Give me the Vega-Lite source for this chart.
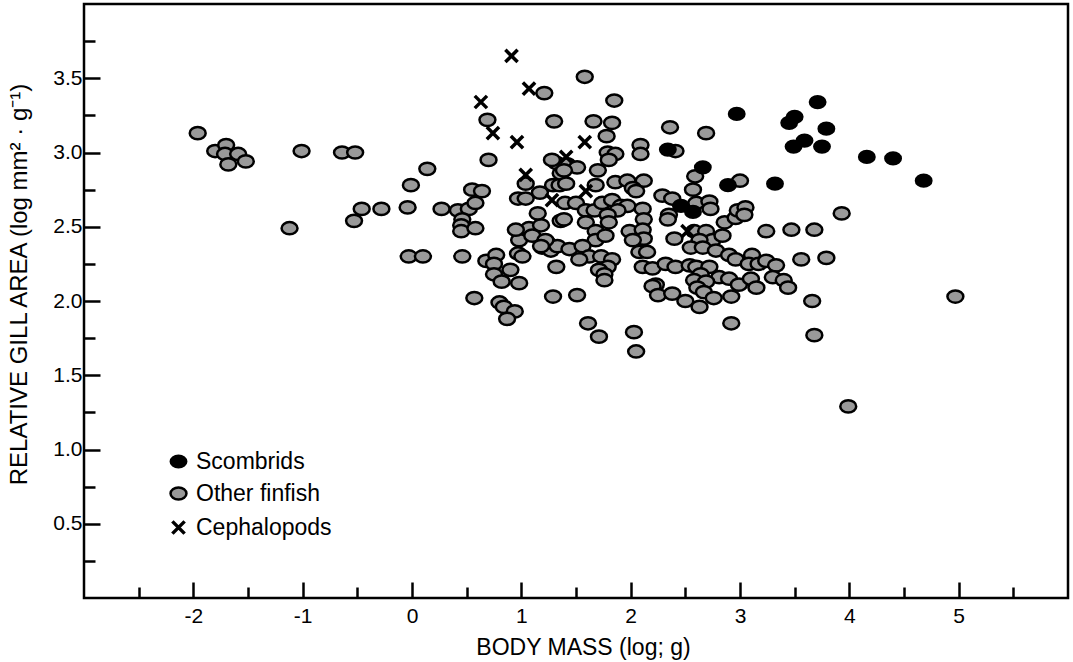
{
  "$schema": "https://vega.github.io/schema/vega-lite/v6.json",
  "width": 984,
  "height": 594,
  "autosize": {"type": "none"},
  "padding": {"left": 84, "top": 4, "right": 5, "bottom": 64},
  "background": "white",
  "config": {
    "view": {"stroke": "black", "strokeWidth": 2.5},
    "font": "Liberation Sans",
    "axis": {
      "domain": false,
      "grid": false,
      "tickColor": "black",
      "tickWidth": 2.5,
      "labelColor": "black",
      "labelFont": "Liberation Sans",
      "labelFontSize": 21,
      "labelOverlap": false,
      "labelBound": false,
      "titleFont": "Liberation Sans",
      "titleFontWeight": "normal",
      "titleColor": "black"
    },
    "legend": {
      "labelFont": "Liberation Sans",
      "labelFontSize": 23,
      "labelColor": "black",
      "padding": 0
    }
  },
  "data": {
    "values": [
      {"mass": -1.96, "gill": 3.13, "group": "Other finfish"},
      {"mass": -1.80, "gill": 3.01, "group": "Other finfish"},
      {"mass": -1.70, "gill": 3.05, "group": "Other finfish"},
      {"mass": -1.71, "gill": 2.99, "group": "Other finfish"},
      {"mass": -1.59, "gill": 2.99, "group": "Other finfish"},
      {"mass": -1.68, "gill": 2.92, "group": "Other finfish"},
      {"mass": -1.52, "gill": 2.94, "group": "Other finfish"},
      {"mass": -1.12, "gill": 2.49, "group": "Other finfish"},
      {"mass": -1.01, "gill": 3.01, "group": "Other finfish"},
      {"mass": -0.64, "gill": 3.00, "group": "Other finfish"},
      {"mass": -0.52, "gill": 3.00, "group": "Other finfish"},
      {"mass": 0.14, "gill": 2.89, "group": "Other finfish"},
      {"mass": -0.01, "gill": 2.78, "group": "Other finfish"},
      {"mass": -0.46, "gill": 2.62, "group": "Other finfish"},
      {"mass": -0.28, "gill": 2.62, "group": "Other finfish"},
      {"mass": -0.04, "gill": 2.63, "group": "Other finfish"},
      {"mass": -0.53, "gill": 2.54, "group": "Other finfish"},
      {"mass": 0.27, "gill": 2.62, "group": "Other finfish"},
      {"mass": 0.42, "gill": 2.61, "group": "Other finfish"},
      {"mass": 0.52, "gill": 2.62, "group": "Other finfish"},
      {"mass": 0.58, "gill": 2.66, "group": "Other finfish"},
      {"mass": 0.55, "gill": 2.75, "group": "Other finfish"},
      {"mass": 0.64, "gill": 2.74, "group": "Other finfish"},
      {"mass": 0.46, "gill": 2.55, "group": "Other finfish"},
      {"mass": 0.45, "gill": 2.51, "group": "Other finfish"},
      {"mass": 0.45, "gill": 2.47, "group": "Other finfish"},
      {"mass": 0.58, "gill": 2.49, "group": "Other finfish"},
      {"mass": 0.69, "gill": 3.22, "group": "Other finfish"},
      {"mass": 0.70, "gill": 2.95, "group": "Other finfish"},
      {"mass": 1.21, "gill": 3.40, "group": "Other finfish"},
      {"mass": 1.04, "gill": 2.79, "group": "Other finfish"},
      {"mass": -0.03, "gill": 2.30, "group": "Other finfish"},
      {"mass": 0.10, "gill": 2.30, "group": "Other finfish"},
      {"mass": 0.46, "gill": 2.30, "group": "Other finfish"},
      {"mass": 0.68, "gill": 2.27, "group": "Other finfish"},
      {"mass": 0.77, "gill": 2.31, "group": "Other finfish"},
      {"mass": 0.75, "gill": 2.25, "group": "Other finfish"},
      {"mass": 0.75, "gill": 2.18, "group": "Other finfish"},
      {"mass": 0.82, "gill": 2.13, "group": "Other finfish"},
      {"mass": 0.90, "gill": 2.21, "group": "Other finfish"},
      {"mass": 0.98, "gill": 2.12, "group": "Other finfish"},
      {"mass": 0.97, "gill": 2.32, "group": "Other finfish"},
      {"mass": 1.01, "gill": 2.30, "group": "Other finfish"},
      {"mass": 0.97, "gill": 2.47, "group": "Other finfish"},
      {"mass": 0.98, "gill": 2.41, "group": "Other finfish"},
      {"mass": 1.07, "gill": 2.49, "group": "Other finfish"},
      {"mass": 1.10, "gill": 2.44, "group": "Other finfish"},
      {"mass": 1.18, "gill": 2.51, "group": "Other finfish"},
      {"mass": 1.23, "gill": 2.40, "group": "Other finfish"},
      {"mass": 1.19, "gill": 2.36, "group": "Other finfish"},
      {"mass": 1.27, "gill": 2.34, "group": "Other finfish"},
      {"mass": 1.33, "gill": 2.37, "group": "Other finfish"},
      {"mass": 1.32, "gill": 2.23, "group": "Other finfish"},
      {"mass": 1.15, "gill": 2.59, "group": "Other finfish"},
      {"mass": 0.97, "gill": 2.69, "group": "Other finfish"},
      {"mass": 1.04, "gill": 2.69, "group": "Other finfish"},
      {"mass": 1.17, "gill": 2.73, "group": "Other finfish"},
      {"mass": 1.29, "gill": 2.78, "group": "Other finfish"},
      {"mass": 1.35, "gill": 2.78, "group": "Other finfish"},
      {"mass": 1.36, "gill": 2.54, "group": "Other finfish"},
      {"mass": 1.32, "gill": 2.93, "group": "Other finfish"},
      {"mass": 1.36, "gill": 2.86, "group": "Other finfish"},
      {"mass": 1.42, "gill": 2.92, "group": "Other finfish"},
      {"mass": 1.51, "gill": 2.90, "group": "Other finfish"},
      {"mass": 1.70, "gill": 2.88, "group": "Other finfish"},
      {"mass": 1.41, "gill": 2.79, "group": "Other finfish"},
      {"mass": 1.68, "gill": 2.78, "group": "Other finfish"},
      {"mass": 1.86, "gill": 2.80, "group": "Other finfish"},
      {"mass": 1.97, "gill": 2.81, "group": "Other finfish"},
      {"mass": 2.12, "gill": 2.81, "group": "Other finfish"},
      {"mass": 2.02, "gill": 2.76, "group": "Other finfish"},
      {"mass": 2.05, "gill": 2.74, "group": "Other finfish"},
      {"mass": 1.40, "gill": 2.66, "group": "Other finfish"},
      {"mass": 1.50, "gill": 2.66, "group": "Other finfish"},
      {"mass": 1.59, "gill": 2.61, "group": "Other finfish"},
      {"mass": 1.67, "gill": 2.61, "group": "Other finfish"},
      {"mass": 1.74, "gill": 2.66, "group": "Other finfish"},
      {"mass": 1.83, "gill": 2.68, "group": "Other finfish"},
      {"mass": 1.91, "gill": 2.64, "group": "Other finfish"},
      {"mass": 1.97, "gill": 2.64, "group": "Other finfish"},
      {"mass": 1.88, "gill": 2.61, "group": "Other finfish"},
      {"mass": 1.79, "gill": 2.58, "group": "Other finfish"},
      {"mass": 1.80, "gill": 2.53, "group": "Other finfish"},
      {"mass": 1.59, "gill": 2.53, "group": "Other finfish"},
      {"mass": 1.39, "gill": 2.55, "group": "Other finfish"},
      {"mass": 2.11, "gill": 2.62, "group": "Other finfish"},
      {"mass": 2.12, "gill": 2.55, "group": "Other finfish"},
      {"mass": 1.68, "gill": 2.47, "group": "Other finfish"},
      {"mass": 1.68, "gill": 2.41, "group": "Other finfish"},
      {"mass": 1.77, "gill": 2.44, "group": "Other finfish"},
      {"mass": 1.99, "gill": 2.47, "group": "Other finfish"},
      {"mass": 2.11, "gill": 2.48, "group": "Other finfish"},
      {"mass": 2.12, "gill": 2.42, "group": "Other finfish"},
      {"mass": 2.02, "gill": 2.41, "group": "Other finfish"},
      {"mass": 2.08, "gill": 2.33, "group": "Other finfish"},
      {"mass": 2.15, "gill": 2.33, "group": "Other finfish"},
      {"mass": 1.44, "gill": 2.35, "group": "Other finfish"},
      {"mass": 1.56, "gill": 2.37, "group": "Other finfish"},
      {"mass": 1.62, "gill": 2.30, "group": "Other finfish"},
      {"mass": 1.53, "gill": 2.28, "group": "Other finfish"},
      {"mass": 1.73, "gill": 2.30, "group": "Other finfish"},
      {"mass": 1.83, "gill": 2.28, "group": "Other finfish"},
      {"mass": 1.79, "gill": 2.23, "group": "Other finfish"},
      {"mass": 1.71, "gill": 2.21, "group": "Other finfish"},
      {"mass": 1.76, "gill": 2.18, "group": "Other finfish"},
      {"mass": 2.11, "gill": 2.23, "group": "Other finfish"},
      {"mass": 2.20, "gill": 2.22, "group": "Other finfish"},
      {"mass": 2.32, "gill": 2.25, "group": "Other finfish"},
      {"mass": 2.41, "gill": 2.23, "group": "Other finfish"},
      {"mass": 2.23, "gill": 2.11, "group": "Other finfish"},
      {"mass": 2.29, "gill": 2.71, "group": "Other finfish"},
      {"mass": 2.38, "gill": 2.69, "group": "Other finfish"},
      {"mass": 2.35, "gill": 2.58, "group": "Other finfish"},
      {"mass": 2.34, "gill": 2.55, "group": "Other finfish"},
      {"mass": 2.40, "gill": 2.42, "group": "Other finfish"},
      {"mass": 2.57, "gill": 2.75, "group": "Other finfish"},
      {"mass": 2.59, "gill": 2.84, "group": "Other finfish"},
      {"mass": 2.60, "gill": 2.66, "group": "Other finfish"},
      {"mass": 2.72, "gill": 2.67, "group": "Other finfish"},
      {"mass": 2.73, "gill": 2.62, "group": "Other finfish"},
      {"mass": 2.58, "gill": 2.47, "group": "Other finfish"},
      {"mass": 2.69, "gill": 2.47, "group": "Other finfish"},
      {"mass": 2.75, "gill": 2.41, "group": "Other finfish"},
      {"mass": 2.63, "gill": 2.41, "group": "Other finfish"},
      {"mass": 2.84, "gill": 2.44, "group": "Other finfish"},
      {"mass": 2.86, "gill": 2.53, "group": "Other finfish"},
      {"mass": 2.96, "gill": 2.56, "group": "Other finfish"},
      {"mass": 2.98, "gill": 2.61, "group": "Other finfish"},
      {"mass": 2.55, "gill": 2.36, "group": "Other finfish"},
      {"mass": 2.66, "gill": 2.36, "group": "Other finfish"},
      {"mass": 2.78, "gill": 2.34, "group": "Other finfish"},
      {"mass": 2.90, "gill": 2.31, "group": "Other finfish"},
      {"mass": 2.54, "gill": 2.24, "group": "Other finfish"},
      {"mass": 2.60, "gill": 2.23, "group": "Other finfish"},
      {"mass": 2.72, "gill": 2.23, "group": "Other finfish"},
      {"mass": 2.64, "gill": 2.18, "group": "Other finfish"},
      {"mass": 2.81, "gill": 2.16, "group": "Other finfish"},
      {"mass": 2.90, "gill": 2.15, "group": "Other finfish"},
      {"mass": 2.58, "gill": 2.14, "group": "Other finfish"},
      {"mass": 2.69, "gill": 2.13, "group": "Other finfish"},
      {"mass": 2.20, "gill": 2.10, "group": "Other finfish"},
      {"mass": 2.61, "gill": 2.09, "group": "Other finfish"},
      {"mass": 0.57, "gill": 2.02, "group": "Other finfish"},
      {"mass": 0.80, "gill": 1.99, "group": "Other finfish"},
      {"mass": 0.84, "gill": 1.96, "group": "Other finfish"},
      {"mass": 0.94, "gill": 1.93, "group": "Other finfish"},
      {"mass": 0.87, "gill": 1.88, "group": "Other finfish"},
      {"mass": 1.29, "gill": 2.03, "group": "Other finfish"},
      {"mass": 1.51, "gill": 2.04, "group": "Other finfish"},
      {"mass": 1.61, "gill": 1.85, "group": "Other finfish"},
      {"mass": 1.71, "gill": 1.76, "group": "Other finfish"},
      {"mass": 2.03, "gill": 1.79, "group": "Other finfish"},
      {"mass": 2.05, "gill": 1.66, "group": "Other finfish"},
      {"mass": 2.25, "gill": 2.04, "group": "Other finfish"},
      {"mass": 2.38, "gill": 2.05, "group": "Other finfish"},
      {"mass": 2.50, "gill": 2.00, "group": "Other finfish"},
      {"mass": 2.63, "gill": 1.96, "group": "Other finfish"},
      {"mass": 2.67, "gill": 2.06, "group": "Other finfish"},
      {"mass": 2.76, "gill": 2.02, "group": "Other finfish"},
      {"mass": 2.92, "gill": 2.03, "group": "Other finfish"},
      {"mass": 2.92, "gill": 1.85, "group": "Other finfish"},
      {"mass": 1.76, "gill": 2.14, "group": "Other finfish"},
      {"mass": 2.99, "gill": 2.11, "group": "Other finfish"},
      {"mass": 3.93, "gill": 2.59, "group": "Other finfish"},
      {"mass": 3.24, "gill": 2.47, "group": "Other finfish"},
      {"mass": 3.47, "gill": 2.48, "group": "Other finfish"},
      {"mass": 3.68, "gill": 2.48, "group": "Other finfish"},
      {"mass": 3.05, "gill": 2.63, "group": "Other finfish"},
      {"mass": 3.04, "gill": 2.58, "group": "Other finfish"},
      {"mass": 2.96, "gill": 2.28, "group": "Other finfish"},
      {"mass": 3.11, "gill": 2.31, "group": "Other finfish"},
      {"mass": 3.08, "gill": 2.25, "group": "Other finfish"},
      {"mass": 3.17, "gill": 2.25, "group": "Other finfish"},
      {"mass": 3.24, "gill": 2.27, "group": "Other finfish"},
      {"mass": 3.33, "gill": 2.24, "group": "Other finfish"},
      {"mass": 3.30, "gill": 2.16, "group": "Other finfish"},
      {"mass": 3.40, "gill": 2.14, "group": "Other finfish"},
      {"mass": 3.44, "gill": 2.09, "group": "Other finfish"},
      {"mass": 3.56, "gill": 2.28, "group": "Other finfish"},
      {"mass": 3.79, "gill": 2.29, "group": "Other finfish"},
      {"mass": 3.10, "gill": 2.15, "group": "Other finfish"},
      {"mass": 3.15, "gill": 2.09, "group": "Other finfish"},
      {"mass": 3.66, "gill": 2.00, "group": "Other finfish"},
      {"mass": 3.68, "gill": 1.77, "group": "Other finfish"},
      {"mass": 4.97, "gill": 2.03, "group": "Other finfish"},
      {"mass": 3.99, "gill": 1.29, "group": "Other finfish"},
      {"mass": 3.00, "gill": 2.81, "group": "Other finfish"},
      {"mass": 1.58, "gill": 3.51, "group": "Other finfish"},
      {"mass": 1.85, "gill": 3.35, "group": "Other finfish"},
      {"mass": 1.66, "gill": 3.21, "group": "Other finfish"},
      {"mass": 1.83, "gill": 3.20, "group": "Other finfish"},
      {"mass": 1.30, "gill": 3.21, "group": "Other finfish"},
      {"mass": 1.78, "gill": 3.11, "group": "Other finfish"},
      {"mass": 2.36, "gill": 3.17, "group": "Other finfish"},
      {"mass": 2.69, "gill": 3.13, "group": "Other finfish"},
      {"mass": 2.09, "gill": 3.05, "group": "Other finfish"},
      {"mass": 2.09, "gill": 2.99, "group": "Other finfish"},
      {"mass": 1.79, "gill": 3.00, "group": "Other finfish"},
      {"mass": 1.86, "gill": 2.99, "group": "Other finfish"},
      {"mass": 1.80, "gill": 2.95, "group": "Other finfish"},
      {"mass": 2.41, "gill": 3.01, "group": "Other finfish"},
      {"mass": 1.28, "gill": 2.95, "group": "Other finfish"},
      {"mass": 1.39, "gill": 2.88, "group": "Other finfish"},
      {"mass": 0.95, "gill": 2.48, "group": "Other finfish"},
      {"mass": 1.22, "gill": 2.41, "group": "Other finfish"},
      {"mass": 1.18, "gill": 2.37, "group": "Other finfish"},
      {"mass": 2.34, "gill": 3.02, "group": "Scombrids"},
      {"mass": 2.97, "gill": 3.26, "group": "Scombrids"},
      {"mass": 3.71, "gill": 3.34, "group": "Scombrids"},
      {"mass": 3.50, "gill": 3.24, "group": "Scombrids"},
      {"mass": 3.45, "gill": 3.20, "group": "Scombrids"},
      {"mass": 3.79, "gill": 3.16, "group": "Scombrids"},
      {"mass": 3.59, "gill": 3.08, "group": "Scombrids"},
      {"mass": 3.49, "gill": 3.04, "group": "Scombrids"},
      {"mass": 3.75, "gill": 3.04, "group": "Scombrids"},
      {"mass": 4.16, "gill": 2.97, "group": "Scombrids"},
      {"mass": 4.40, "gill": 2.96, "group": "Scombrids"},
      {"mass": 4.68, "gill": 2.81, "group": "Scombrids"},
      {"mass": 3.32, "gill": 2.79, "group": "Scombrids"},
      {"mass": 2.66, "gill": 2.90, "group": "Scombrids"},
      {"mass": 2.89, "gill": 2.78, "group": "Scombrids"},
      {"mass": 2.46, "gill": 2.64, "group": "Scombrids"},
      {"mass": 2.57, "gill": 2.60, "group": "Scombrids"},
      {"mass": 0.63, "gill": 3.34, "group": "Cephalopods"},
      {"mass": 0.74, "gill": 3.13, "group": "Cephalopods"},
      {"mass": 0.91, "gill": 3.65, "group": "Cephalopods"},
      {"mass": 0.96, "gill": 3.07, "group": "Cephalopods"},
      {"mass": 1.07, "gill": 3.43, "group": "Cephalopods"},
      {"mass": 1.04, "gill": 2.85, "group": "Cephalopods"},
      {"mass": 1.28, "gill": 2.68, "group": "Cephalopods"},
      {"mass": 1.41, "gill": 2.97, "group": "Cephalopods"},
      {"mass": 1.58, "gill": 3.07, "group": "Cephalopods"},
      {"mass": 1.59, "gill": 2.74, "group": "Cephalopods"},
      {"mass": 2.52, "gill": 2.47, "group": "Cephalopods"}
    ]
  },
  "layer": [
    {
      "mark": {"type": "point", "opacity": 0},
      "encoding": {
        "x": {
          "field": "mass",
          "type": "quantitative",
          "scale": {"domain": [-3, 6], "nice": false, "zero": false},
          "axis": {
            "orient": "bottom",
            "values": [-2.5, -1.5, -0.5, 0.5, 1.5, 2.5, 3.5, 4.5, 5.5],
            "labels": false,
            "tickSize": -11,
            "title": null
          }
        },
        "y": {
          "field": "gill",
          "type": "quantitative",
          "scale": {"domain": [0, 4], "nice": false, "zero": false},
          "axis": {
            "orient": "left",
            "values": [0.25, 0.75, 1.25, 1.75, 2.25, 2.75, 3.25, 3.75],
            "labels": false,
            "tickSize": -11,
            "title": null
          }
        }
      }
    },
    {
      "mark": {"type": "point", "filled": true, "opacity": 1, "size": 150},
      "encoding": {
        "x": {
          "field": "mass",
          "type": "quantitative",
          "scale": {"domain": [-3, 6], "nice": false, "zero": false},
          "axis": {
            "orient": "bottom",
            "values": [-2, -1, 0, 1, 2, 3, 4, 5],
            "labelExpr": "'' + datum.value",
            "tickSize": -16,
            "labelPadding": 23,
            "title": "BODY MASS (log; g)",
            "titleFontSize": 23,
            "titlePadding": 10,
            "titleX": 499
          }
        },
        "y": {
          "field": "gill",
          "type": "quantitative",
          "scale": {"domain": [0, 4], "nice": false, "zero": false},
          "axis": {
            "orient": "left",
            "values": [0.5, 1, 1.5, 2, 2.5, 3, 3.5],
            "labelExpr": "format(datum.value, '.1f')",
            "tickSize": -16,
            "labelPadding": 18,
            "title": "RELATIVE GILL AREA (log mm² · g⁻¹)",
            "titleFontSize": 24,
            "titlePadding": 21,
            "titleY": 280
          }
        },
        "shape": {
          "field": "group",
          "type": "nominal",
          "scale": {
            "domain": ["Scombrids", "Other finfish", "Cephalopods"],
            "range": [
              "M-1.3,0C-1.3,-0.5523,-0.718,-1,0,-1C0.718,-1,1.3,-0.5523,1.3,0C1.3,0.5523,0.718,1,0,1C-0.718,1,-1.3,0.5523,-1.3,0Z",
              "M-1.3,0C-1.3,-0.5523,-0.718,-1,0,-1C0.718,-1,1.3,-0.5523,1.3,0C1.3,0.5523,0.718,1,0,1C-0.718,1,-1.3,0.5523,-1.3,0Z",
              "M-1,-1L1,1M-1,1L1,-1"
            ]
          },
          "legend": {
            "title": null,
            "orient": "none",
            "legendX": 83,
            "legendY": 446,
            "symbolSize": 150,
            "rowPadding": 8,
            "labelOffset": 6
          }
        },
        "fill": {
          "field": "group",
          "type": "nominal",
          "scale": {"domain": ["Scombrids", "Other finfish", "Cephalopods"], "range": ["#000000", "#999999", "#000000"]},
          "legend": {
            "title": null,
            "orient": "none",
            "legendX": 83,
            "legendY": 446,
            "symbolSize": 150,
            "rowPadding": 8,
            "labelOffset": 6
          }
        },
        "stroke": {
          "field": "group",
          "type": "nominal",
          "scale": {"domain": ["Scombrids", "Other finfish", "Cephalopods"], "range": ["#000000", "#000000", "#000000"]},
          "legend": {
            "title": null,
            "orient": "none",
            "legendX": 83,
            "legendY": 446,
            "symbolSize": 150,
            "rowPadding": 8,
            "labelOffset": 6
          }
        },
        "strokeWidth": {
          "field": "group",
          "type": "ordinal",
          "scale": {"type": "ordinal", "domain": ["Scombrids", "Other finfish", "Cephalopods"], "range": [2, 2.5, 3.5]},
          "legend": {
            "title": null,
            "orient": "none",
            "legendX": 83,
            "legendY": 446,
            "symbolSize": 150,
            "rowPadding": 8,
            "labelOffset": 6
          }
        }
      }
    }
  ],
  "resolve": {"axis": {"x": "independent", "y": "independent"}}
}
